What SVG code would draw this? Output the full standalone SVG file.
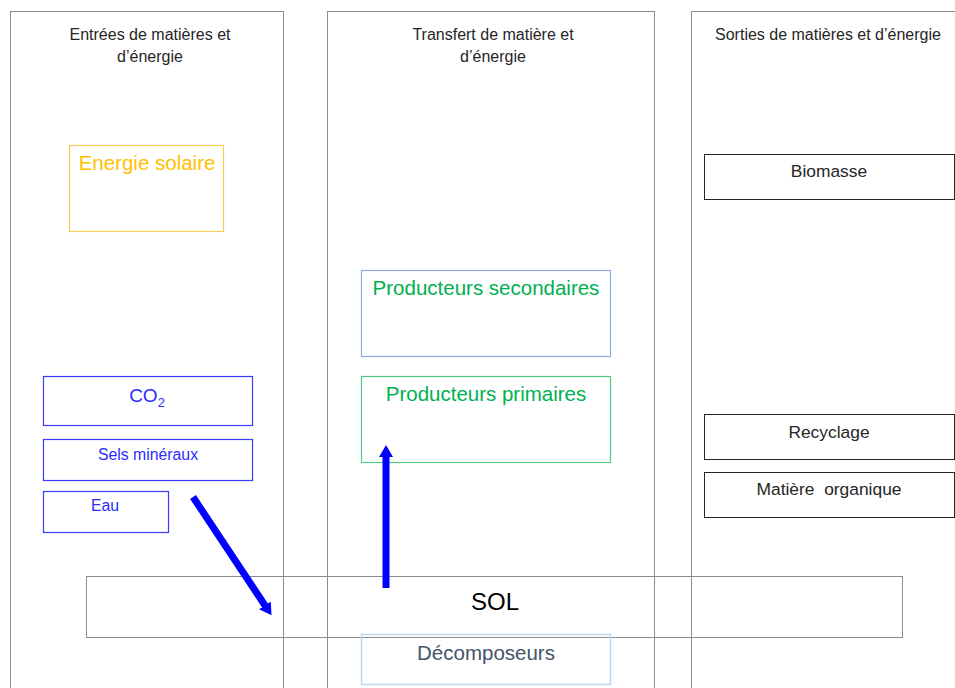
<svg xmlns="http://www.w3.org/2000/svg" width="955" height="688" viewBox="0 0 955 688">
<style>
.col{fill:none;stroke:#8c8c8c;stroke-width:1}
.t{font-family:"Liberation Sans",Arial,sans-serif;text-anchor:middle}
.hd{font-size:16px;fill:#262626}
.blk{fill:none;stroke:#262626;stroke-width:1}
.bl{fill:none;stroke:#3b3bff;stroke-width:1.2}
.bt{fill:#2b2bff}
.gr{fill:#00b050}
.arr{stroke:#0000ff;stroke-width:7;fill:none}
</style>
<defs>
<marker id="ah" markerUnits="userSpaceOnUse" markerWidth="16" markerHeight="16" refX="2" refY="8" orient="auto" viewBox="0 0 16 16">
<path d="M0,1 L12,8 L0,15 Z" fill="#0000ff"/>
</marker>
</defs>
<rect width="955" height="688" fill="#ffffff"/>
<g id="col-entrees">
<rect class="col" x="10.5" y="11.5" width="273" height="690"/>
<text class="t hd" x="150" y="40">Entrées de matières et</text>
<text class="t hd" x="150" y="62">d’énergie</text>
</g>
<g id="col-transfert">
<rect class="col" x="327.5" y="11.5" width="327" height="690"/>
<text class="t hd" x="493" y="40">Transfert de matière et</text>
<text class="t hd" x="493" y="62">d’énergie</text>
</g>
<g id="col-sorties">
<rect class="col" x="691.5" y="11.5" width="300" height="690"/>
<text class="t hd" x="828" y="40">Sorties de matières et d’énergie</text>
</g>
<g id="sol">
<rect x="86.5" y="576.5" width="816" height="61" fill="none" stroke="#8c8c8c" stroke-width="1"/>
<text class="t" x="495" y="610" font-size="24" fill="#000">SOL</text>
</g>
<g id="energie-solaire">
<rect x="69.5" y="145.5" width="154" height="86" fill="none" stroke="#f7cd55" stroke-width="1.2"/>
<text class="t" x="147" y="170" font-size="20.5" fill="#ffc000">Energie solaire</text>
</g>
<g id="co2">
<rect class="bl" x="43.5" y="376.5" width="209" height="49"/>
<text class="t bt" x="147" y="402" font-size="19">CO<tspan font-size="13" dy="5">2</tspan></text>
</g>
<g id="sels">
<rect class="bl" x="43.5" y="439.5" width="209" height="41"/>
<text class="t bt" x="148" y="460" font-size="15.8">Sels minéraux</text>
</g>
<g id="eau">
<rect class="bl" x="43.5" y="491.5" width="125" height="41"/>
<text class="t bt" x="105" y="511" font-size="15.8">Eau</text>
</g>
<g id="prod-secondaires">
<rect x="361.5" y="270.5" width="249" height="86" fill="none" stroke="#8faadc" stroke-width="1.2"/>
<text class="t gr" x="486" y="295" font-size="20.5">Producteurs secondaires</text>
</g>
<g id="prod-primaires">
<rect x="361.5" y="376.5" width="249" height="86" fill="none" stroke="#4fcb82" stroke-width="1.2"/>
<text class="t gr" x="486" y="401" font-size="20.5">Producteurs primaires</text>
</g>
<g id="decomposeurs">
<rect x="361.5" y="634.5" width="249" height="50" fill="none" stroke="#bdd7ee" stroke-width="1.5"/>
<text class="t" x="486" y="660" font-size="20.5" fill="#44546a">Décomposeurs</text>
</g>
<g id="biomasse">
<rect class="blk" x="704.5" y="154.5" width="250" height="45"/>
<text class="t" x="829" y="177" font-size="17.4" fill="#262626">Biomasse</text>
</g>
<g id="recyclage">
<rect class="blk" x="704.5" y="414.5" width="250" height="45"/>
<text class="t" x="829" y="438" font-size="17.4" fill="#262626">Recyclage</text>
</g>
<g id="matiere-organique">
<rect class="blk" x="704.5" y="472.5" width="250" height="45"/>
<text class="t" x="829" y="495" font-size="17.4" fill="#262626" xml:space="preserve">Matière  organique</text>
</g>
<g id="connectors">
<line class="arr" x1="193" y1="497" x2="266" y2="607" marker-end="url(#ah)"/>
<line class="arr" x1="386" y1="588" x2="386" y2="455" marker-end="url(#ah)"/>
</g>
</svg>
